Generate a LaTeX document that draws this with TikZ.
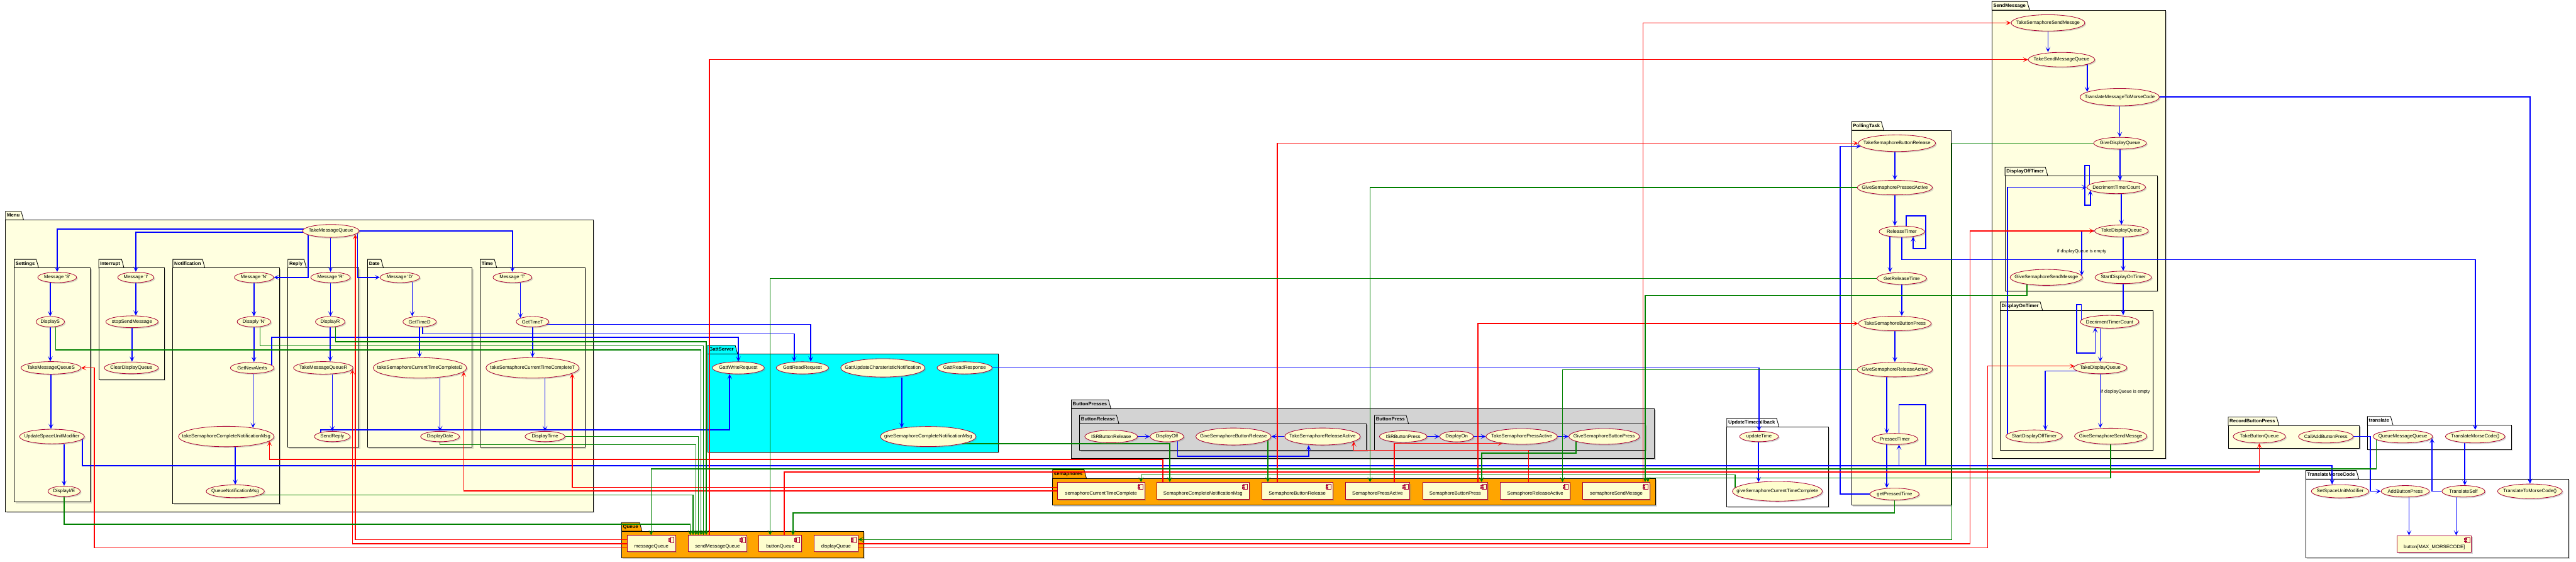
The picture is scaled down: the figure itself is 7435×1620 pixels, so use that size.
\documentclass[tikz,border=0pt]{standalone}
\usepackage{fontspec}
\setmainfont{Liberation Sans}
\usetikzlibrary{shapes.geometric,arrows.meta,calc,shadows}

\definecolor{UmlRed}{HTML}{A80036}
\definecolor{UmlFill}{HTML}{FEFECE}
\definecolor{PkgFill}{HTML}{FFFFE0}
\definecolor{CallBlue}{HTML}{0000FF}
\definecolor{TakeRed}{HTML}{FF0000}
\definecolor{GiveGreen}{HTML}{008000}
\definecolor{QueueOrange}{HTML}{FFA500}
\definecolor{GattCyan}{HTML}{00FFFF}
\definecolor{PressGray}{HTML}{D3D3D3}

\pgfdeclarelayer{pkgbg}
\pgfdeclarelayer{pkgtext}
\pgfdeclarelayer{wires}
\pgfsetlayers{pkgbg,pkgtext,wires,main}

\tikzset{
  umlshadow/.style={drop shadow={shadow xshift=0.035cm,shadow yshift=-0.035cm,opacity=0.3}},
  sz/.style 2 args={minimum width=#1*0.01cm,minimum height=#2*0.01cm},
  usecase/.style={ellipse,draw=UmlRed,fill=UmlFill,line width=0.015cm,inner sep=0pt,umlshadow,
    font=\fontsize{3.98}{4.8}\selectfont,
    execute at begin node={\hbox to 0pt\bgroup\hss},
    execute at end node={\hss\egroup}},
  component/.style={rectangle,draw=UmlRed,fill=UmlFill,line width=0.015cm,inner sep=0pt,umlshadow,
    font=\fontsize{3.98}{4.8}\selectfont,text height=0.26cm,text depth=0.02cm,
    path picture={
      \draw[UmlRed,fill=UmlFill,line width=0.012cm]
        ([shift={(-17,5)}]path picture bounding box.north east) rectangle ++(12,15);
      \draw[UmlRed,fill=UmlFill,line width=0.012cm]
        ([shift={(-20,8)}]path picture bounding box.north east) rectangle ++(6,3)
        ([shift={(-20,14)}]path picture bounding box.north east) rectangle ++(6,3);
    }},
  pkgtitle/.style={font=\bfseries\fontsize{3.98}{4.8}\selectfont,inner xsep=0.035cm,
    inner ysep=0.05cm,text height=0.105cm,text depth=0.03cm},
  pkgframe/.style={draw=black,line width=0.015cm},
  guard/.style={font=\fontsize{3.7}{4.4}\selectfont,inner sep=0pt},
  callblue/.style={draw=CallBlue,line width=0.03cm,->},
  takered/.style={draw=TakeRed,line width=0.026cm,->},
  givegreen/.style={draw=GiveGreen,line width=0.026cm,->}
}

% name, title, left, frame top, right, bottom, fill
\newcommand\umlpackage[7]{%
  \begin{pgfonlayer}{pkgtext}
    \node[pkgtitle,anchor=south west] (#1) at (#3,#4) {#2};
  \end{pgfonlayer}
  \begin{pgfonlayer}{pkgbg}
    \draw[pkgframe,fill=#7] (#3,#4) |- (#1.north east) -- ($(#1.south east)+(7,0)$) -- cycle;
    \draw[pkgframe,fill=#7,umlshadow] (#3,#4) rectangle (#5,#6);
  \end{pgfonlayer}}

\begin{document}
\begin{tikzpicture}[x=0.01cm,y=-0.01cm,>={Stealth[length=0.15cm,width=0.14cm,inset=0.08cm]}]
\useasboundingbox (0,0) rectangle (7435,1620);

% packages
\umlpackage{pkMenu}{Menu}{16}{634}{1712}{1476}{PkgFill}
\umlpackage{pkSettings}{Settings}{41}{773}{261}{1448}{PkgFill}
\umlpackage{pkInterrupt}{Interrupt}{285}{773}{474}{1095}{PkgFill}
\umlpackage{pkNotification}{Notification}{499}{773}{807}{1452}{PkgFill}
\umlpackage{pkReply}{Reply}{831}{773}{1036}{1290}{PkgFill}
\umlpackage{pkDate}{Date}{1061}{773}{1363}{1290}{PkgFill}
\umlpackage{pkTime}{Time}{1386}{773}{1689}{1290}{PkgFill}
\umlpackage{pkGatt}{GattServer}{2042}{1021}{2881}{1304}{GattCyan}
\umlpackage{pkQueue}{Queue}{1794}{1532}{2493}{1609}{QueueOrange}
\umlpackage{pkButtons}{ButtonPresses}{3092}{1178}{4775}{1323}{PressGray}
\umlpackage{pkRelease}{ButtonRelease}{3116}{1222}{3944}{1299}{PressGray}
\umlpackage{pkPress}{ButtonPress}{3967}{1223}{4750}{1298}{PressGray}
\umlpackage{pkSems}{semaphores}{3038}{1380}{4779}{1457}{QueueOrange}
\umlpackage{pkUpdate}{UpdateTimecallback}{4984}{1231}{5277}{1462}{white}
\umlpackage{pkPolling}{PollingTask}{5344}{376}{5631}{1457}{PkgFill}
\umlpackage{pkSend}{SendMessage}{5749}{29}{6251}{1322}{PkgFill}
\umlpackage{pkOffTimer}{DisplayOffTimer}{5787}{507}{6227}{839}{PkgFill}
\umlpackage{pkOnTimer}{DisplayOnTimer}{5773}{896}{6214}{1298}{PkgFill}
\umlpackage{pkRecord}{RecordButtonPress}{6431}{1228}{6810}{1293}{PkgFill}
\umlpackage{pkTranslate}{translate}{6833}{1226}{7248}{1296}{white}
\umlpackage{pkMorse}{TranslateMorseCode}{6655}{1382}{7414}{1609}{white}

% Menu
\node[usecase,sz={163}{37}] (tmq) at (955,666) {TakeMessageQueue};
\node[usecase,sz={112}{30}] (msgS) at (165,800) {Message \textquotesingle S\textquotesingle};
\node[usecase,sz={82}{30}] (dispS) at (145,928) {DisplayS};
\node[usecase,sz={173}{36}] (tmqS) at (147,1061) {TakeMessageQueueS};
\node[usecase,sz={187}{42}] (usum) at (150,1259) {UpdateSpaceUnitModifier};
\node[usecase,sz={93}{30}] (dispIE) at (185,1417) {DisplayI/E};
\node[usecase,sz={104}{30}] (msgI) at (392,800) {Message \textquotesingle I\textquotesingle};
\node[usecase,sz={151}{34}] (ssm) at (381,928) {stopSendMessage};
\node[usecase,sz={156}{34}] (cdq) at (379,1061) {ClearDisplayQueue};
\node[usecase,sz={113}{30}] (msgN) at (733,800) {Message \textquotesingle N\textquotesingle};
\node[usecase,sz={97}{30}] (dispN) at (733,928) {Disaply \textquotesingle N\textquotesingle};
\node[usecase,sz={126}{32}] (gna) at (728,1061) {GetNewAlerts};
\node[usecase,sz={276}{59}] (tscn) at (653,1259) {takeSemaphoreCompleteNotificationMsg};
\node[usecase,sz={168}{37}] (qnm) at (679,1417) {QueueNotificationMsg};
\node[usecase,sz={114}{30}] (msgR) at (954,800) {Message \textquotesingle R\textquotesingle};
\node[usecase,sz={85}{30}] (dispR) at (953,928) {DisplayR};
\node[usecase,sz={172}{36}] (tmqR) at (933,1061) {TakeMessageQueueR};
\node[usecase,sz={103}{30}] (sreply) at (959,1259) {SendReply};
\node[usecase,sz={114}{30}] (msgD) at (1154,800) {Message \textquotesingle D\textquotesingle};
\node[usecase,sz={96}{30}] (gtD) at (1211,928) {GetTimeD};
\node[usecase,sz={270}{59}] (tsctD) at (1212,1061) {takeSemaphoreCurrentTimeCompleteD};
\node[usecase,sz={112}{30}] (ddate) at (1270,1259) {DisplayDate};
\node[usecase,sz={112}{30}] (msgT) at (1479,800) {Message \textquotesingle T\textquotesingle};
\node[usecase,sz={94}{30}] (gtT) at (1537,928) {GetTimeT};
\node[usecase,sz={269}{59}] (tsctT) at (1537,1061) {takeSemaphoreCurrentTimeCompleteT};
\node[usecase,sz={115}{30}] (dtime) at (1573,1259) {DisplayTime};

% GattServer
\node[usecase,sz={150}{35}] (gwr) at (2131,1061) {GattWriteRequest};
\node[usecase,sz={151}{35}] (grq) at (2316,1061) {GattReadRequest};
\node[usecase,sz={243}{53}] (gucn) at (2548,1061) {GattUpdateCharateristicNotification};
\node[usecase,sz={159}{35}] (grr) at (2784,1061) {GattReadResponse};
\node[usecase,sz={276}{58}] (gscn) at (2679,1259) {giveSemaphoreCompleteNotificationMsg};

% Queue
\node[component,sz={140}{47}] (mq) at (1880,1568) {messageQueue};
\node[component,sz={170}{47}] (smq) at (2071,1568) {sendMessageQueue};
\node[component,sz={123}{47}] (bq) at (2252,1568) {buttonQueue};
\node[component,sz={126}{47}] (dq) at (2413,1568) {displayQueue};

% ButtonPresses
\node[usecase,sz={152}{36}] (isrr) at (3207,1259) {ISRButtonRelease};
\node[usecase,sz={97}{31}] (doff) at (3368,1259) {DisplayOff};
\node[usecase,sz={217}{49}] (gsbr) at (3560,1259) {GiveSemaphoreButtonRelease};
\node[usecase,sz={218}{49}] (tsra) at (3817,1259) {TakeSemaphoreReleaseActive};
\node[usecase,sz={137}{33}] (isrp) at (4050,1259) {ISRButtonPress};
\node[usecase,sz={97}{31}] (don) at (4204,1259) {DisplayOn};
\node[usecase,sz={206}{45}] (tspa) at (4392,1259) {TakeSemaphorePressActive};
\node[usecase,sz={204}{45}] (gsbp) at (4630,1259) {GiveSemaphoreButtonPress};

% semaphores
\node[component,sz={251}{49}] (sctc) at (3178,1416) {semaphoreCurrentTimeComplete};
\node[component,sz={266}{49}] (scnm) at (3472,1416) {SemaphoreCompleteNotificationMsg};
\node[component,sz={205}{49}] (sbr) at (3744,1416) {SemaphoreButtonRelease};
\node[component,sz={186}{49}] (spa) at (3976,1416) {SemaphorePressActive};
\node[component,sz={188}{49}] (sbp) at (4200,1416) {SemaphoreButtonPress};
\node[component,sz={201}{49}] (sra) at (4431,1416) {SemaphoreReleaseActive};
\node[component,sz={193}{49}] (ssmg) at (4665,1416) {semaphoreSendMessge};

% UpdateTimecallback
\node[usecase,sz={112}{30}] (utime) at (5077,1259) {updateTime};
\node[usecase,sz={260}{57}] (gsctc) at (5130,1417) {giveSemaphoreCurrentTimeComplete};

% PollingTask
\node[usecase,sz={223}{48}] (tsbrl) at (5475,413) {TakeSemaphoreButtonRelease};
\node[usecase,sz={217}{42}] (gspa) at (5469,541) {GiveSemaphorePressedActive};
\node[usecase,sz={131}{32}] (rtimer) at (5489,668) {ReleaseTimer};
\node[usecase,sz={143}{34}] (grt) at (5489,803) {GetReleaseTime};
\node[usecase,sz={210}{42}] (tsbp) at (5469,933) {TakeSemaphoreButtonPress};
\node[usecase,sz={217}{42}] (gsra) at (5469,1066) {GiveSemaphoreReleaseActive};
\node[usecase,sz={131}{32}] (ptimer) at (5469,1266) {PressedTimer};
\node[usecase,sz={142}{34}] (gpt) at (5468,1425) {getPressedTime};

% SendMessage
\node[usecase,sz={213}{47}] (tssm) at (5911,66) {TakeSemaphoreSendMessge};
\node[usecase,sz={192}{42}] (tsmq) at (5950,172) {TakeSendMessageQueue};
\node[usecase,sz={229}{50}] (tmtmc) at (6118,280) {TranslateMessageToMorseCode};
\node[usecase,sz={152}{34}] (gdq) at (6119,413) {GiveDisplayQueue};
\node[usecase,sz={169}{37}] (dtc1) at (6108,540) {DecrimentTimerCount};
\node[usecase,sz={155}{34}] (tdq1) at (6123,666) {TakeDisplayQueue};
\node[usecase,sz={209}{46}] (gssm1) at (5906,800) {GiveSemaphoreSendMessge};
\node[usecase,sz={163}{36}] (sdont) at (6128,800) {StartDisplayOnTimer};
\node[usecase,sz={169}{37}] (dtc2) at (6089,928) {DecrimentTimerCount};
\node[usecase,sz={154}{34}] (tdq2) at (6062,1061) {TakeDisplayQueue};
\node[usecase,sz={163}{36}] (sdofft) at (5871,1258) {StartDisplayOffTimer};
\node[usecase,sz={209}{46}] (gssm2) at (6092,1258) {GiveSemaphoreSendMessge};

% RecordButtonPress, translate, TranslateMorseCode
\node[usecase,sz={151}{37}] (tbq) at (6521,1259) {TakeButtonQueue};
\node[usecase,sz={158}{37}] (cabp) at (6713,1259) {CallAddButtonPress};
\node[usecase,sz={172}{37}] (qmq) at (6935,1259) {QueueMessageQueue};
\node[usecase,sz={172}{37}] (tmc) at (7144,1259) {TranslateMorseCode()};
\node[usecase,sz={166}{38}] (ssum) at (6754,1417) {SetSpaceUnitModifier};
\node[usecase,sz={139}{33}] (abp) at (6942,1417) {AddButtonPress};
\node[usecase,sz={124}{33}] (tself) at (7110,1417) {TranslateSelf};
\node[usecase,sz={187}{42}] (ttmc) at (7302,1417) {TranslateToMorseCode()};
\node[component,sz={214}{48}] (btn) at (7026,1569) {button[MAX\_MORSECODE]};

\begin{pgfonlayer}{wires}
% calls
\draw[callblue] (tmq.176) -| (msgS.north);
\draw[callblue] (tmq.183) -| (msgI.north);
\draw[callblue] (tmq.190) |- (msgN.east);
\draw[callblue] (tmq.south -| msgR.north) -- (msgR.north);
\draw[callblue] (tmq.-5) |- (msgD.west);
\draw[callblue] (tmq.east) -| (msgT.north);
\draw[callblue] (msgS.south -| dispS.north) -- (dispS.north);
\draw[callblue] (dispS.south) -- (dispS.south |- tmqS.north);
\draw[callblue] (tmqS.south) -- (tmqS.south |- usum.north);
\draw[callblue] (usum.south -| dispIE.north) -- (dispIE.north);
\draw[callblue] (msgI.south) -- (msgI.south |- ssm.north);
\draw[callblue] (ssm.south) -- (ssm.south |- cdq.north);
\draw[callblue] (msgN.south) -- (msgN.south |- dispN.north);
\draw[callblue] (dispN.south) -- (dispN.south |- gna.north);
\draw[callblue] (gna.south -| tscn.18) -- (tscn.18);
\draw[callblue] (tscn.south -| qnm.north) -- (qnm.north);
\draw[callblue] (msgR.south) -- (msgR.south |- dispR.north);
\draw[callblue] (dispR.south) -- (dispR.south |- tmqR.north);
\draw[callblue] (tmqR.south -| sreply.north) -- (sreply.north);
\draw[callblue] (msgD.-19) -- (msgD.-19 |- gtD.north);
\draw[callblue] (gtD.south) -- (gtD.south |- tsctD.north);
\draw[callblue] (tsctD.south -| ddate.north) -- (ddate.north);
\draw[callblue] (msgT.south -| gtT.163) -- (gtT.163);
\draw[callblue] (gtT.south) -- (gtT.south |- tsctT.north);
\draw[callblue] (tsctT.south -| dtime.north) -- (dtime.north);
\draw[callblue] (gna.8) |- ($(gwr.north)+(0,-70)$) -- (gwr.north);
\draw[callblue] (gtD.-60) |- ($(grq.north)+(-24,-80)$) -- ($(grq.north)+(-24,0)$);
\draw[callblue] (gtT.-10) -| ($(grq.north)+(24,0)$);
\draw[callblue] (sreply.160) |- ($(gwr.south)+(-25,160)$) -- ($(gwr.south)+(-25,0)$);
\draw[callblue] (usum.-5) |- (4000,1343) -| ($(ssum.north)+(-23,0)$);
\draw[callblue] (grr.east) -| (utime.north);
\draw[callblue] (gucn.south -| gscn.162) -- (gscn.162);
\draw[callblue] (utime.south -| gsctc.154) -- (gsctc.154);
\draw[callblue] (isrr.east) -- (doff.west);
\draw[callblue] (doff.-22) |- (3600,1316) -| ($(tsra.south)+(-40,0)$);
\draw[callblue] (tsra.west) -- (gsbr.east);
\draw[callblue] (isrp.east) -- (don.west);
\draw[callblue] (don.east) -- (tspa.west);
\draw[callblue] (tspa.east) -- (gsbp.west);
\draw[callblue] (tsbrl.south -| gspa.north) -- (gspa.north);
\draw[callblue] (gspa.south) -- (gspa.south |- rtimer.north);
\draw[callblue] (rtimer.53) |- (5558,622) |- ($(rtimer.-24)+(0,35)$) -- (rtimer.-24);
\draw[callblue] (rtimer.203) -- (rtimer.203 |- grt.north);
\draw[callblue] (rtimer.south) |- (6500,749) -| (tmc.north);
\draw[callblue] (grt.south) -- (grt.south |- tsbp.north);
\draw[callblue] (tsbp.south) -- (tsbp.south |- gsra.north);
\draw[callblue] (gsra.south -| ptimer.146) -- (ptimer.146);
\draw[callblue] (ptimer.214) -- (ptimer.214 |- gpt.north);
\draw[callblue] (ptimer.54) |- (5558,1167) |- ($(ptimer.-54)+(0,60)$) -- (ptimer.-54);
\draw[callblue] (gpt.west) -| (5311,900) |- (tsbrl.185);
\draw[callblue] (tssm.south) -- (tssm.south |- tsmq.north);
\draw[callblue] (tsmq.-10 -| tmtmc.171) -- (tmtmc.171);
\draw[callblue] (tmtmc.south) -- (tmtmc.south |- gdq.north);
\draw[callblue] (tmtmc.east) -| (ttmc.north);
\draw[callblue] (gdq.south) -- (gdq.south |- dtc1.north);
\draw[callblue] (dtc1.174) |- (6017,477) |- ($(dtc1.187)+(0,43)$) -- (dtc1.187);
\draw[callblue] (sdofft.175) |- (dtc1.west);
\draw[callblue] (dtc1.south -| tdq1.north) -- (tdq1.north);
\draw[callblue] (tdq1.west) -| (gssm1.3)
  node[guard,pos=0.73] (lblOff) {if displayQueue is empty};
\draw[callblue] (tdq1.south -| sdont.north) -- (sdont.north);
\draw[callblue] (sdont.south) -- (sdont.south |- dtc2.north);
\draw[callblue] (dtc2.176) |- (5994,878) |- ($(dtc2.202)+(0,73)$) -- (dtc2.202);
\draw[callblue] (dtc2.south -| tdq2.north) -- (tdq2.north);
\draw[callblue] (tdq2.188) -| (sdofft.28);
\draw[callblue] (tdq2.south) -- (tdq2.south |- gssm2.north)
  node[guard,pos=0.33,anchor=west] (lblOn) {if displayQueue is empty};
\draw[callblue] (cabp.east) -| ($(abp.west)+(-30,-20)$) |- (abp.west);
\draw[callblue] (tself.west) -| (qmq.-3);
\draw[callblue] (tmc.211) -- (tmc.211 |- tself.north);
\draw[callblue] (abp.-57) -- (abp.-57 |- btn.north);
\draw[callblue] (tself.218) -- (tself.218 |- btn.north);

% takes
\draw[takered] ($(smq.north west)+(62,0)$) |- (tsmq.west);
\draw[takered] ($(ssmg.north east)+(-20,0)$) |- (tssm.west);
\draw[takered] ($(sbr.north west)+(46,0)$) |- (tsbrl.west);
\draw[takered] ($(sbp.north west)+(160,0)$) |- (tsbp.west);
\draw[takered] ($(spa.north west)+(142,0)$) |- (tspa.200);
\draw[takered] ($(sra.north west)+(82,0)$) |- ($(tsra.-9)+(0,25)$) -- (tsra.-9);
\draw[takered] ($(scnm.north west)+(18,0)$) |- ($(tscn.-6)+(0,53)$) -- (tscn.-6);
\draw[takered] ($(sctc.west)+(0,-10)$) -| (tsctT.-8);
\draw[takered] (sctc.west) -| (tsctD.-5);
\draw[takered] ($(mq.west)+(0,-12)$) -| (tmq.-8);
\draw[takered] (mq.west) -| (tmqR.-3);
\draw[takered] ($(mq.west)+(0,12)$) -| (272,1100) |- (tmqS.east);
\draw[takered] ($(bq.north west)+(74,0)$) |- (4000,1361) -| (tbq.south);
\draw[takered] (dq.east) -| (5686,1000) |- (tdq1.west);
\draw[takered] ($(dq.east)+(0,12)$) -| (5737,1200) |- (tdq2.176);

% gives
\draw[givegreen] (dispR.-43) |- (1500,986) -| ($(smq.north west)+(53,0)$);
\draw[givegreen] (dispN.-40) |- (1500,997) -| ($(smq.north west)+(45,0)$);
\draw[givegreen] (dispS.-43) |- (1000,1009) -| ($(smq.north west)+(38,0)$);
\draw[givegreen] (dtime.east) -| ($(smq.north west)+(30,0)$);
\draw[givegreen] (ddate.south) |- (1600,1282) -| ($(smq.north west)+(23,0)$);
\draw[givegreen] (qnm.-8) -| ($(smq.north west)+(15,0)$);
\draw[givegreen] (dispIE.south) |- (1000,1512) -| ($(smq.north west)+(7,0)$);
\draw[givegreen] (gscn.-12) -| ($(scnm.north west)+(38,0)$);
\draw[givegreen] (gsbr.-6) -- (gsbr.-6 |- sbr.north);
\draw[givegreen] (gspa.west) -| ($(spa.north west)+(72,0)$);
\draw[givegreen] (gsbp.190) |- (4400,1307) -| ($(sbp.north west)+(171,0)$);
\draw[givegreen] (gsra.west) -| ($(sra.north west)+(180,0)$);
\draw[givegreen] (gssm1.200) |- (5000,852) -| ($(ssmg.north east)+(-14,0)$);
\draw[givegreen] (gssm2.south) |- (5000,1379) -| ($(ssmg.north east)+(-6,0)$);
\draw[givegreen] (grt.west) -| ($(bq.north west)+(33,0)$);
\draw[givegreen] (gpt.south) |- (4000,1479) -| ($(bq.north west)+(99,0)$);
\draw[givegreen] (gdq.west) -| (5633,1000) |- ($(dq.east)+(0,-12)$);
\draw[givegreen] (gsctc.175) |- (4000,1370) -| ($(sctc.north east)+(-11,0)$);
\draw[givegreen] (qmq.187) |- (4000,1352) -| ($(mq.north west)+(70,0)$);
\end{pgfonlayer}
\end{tikzpicture}
\end{document}
